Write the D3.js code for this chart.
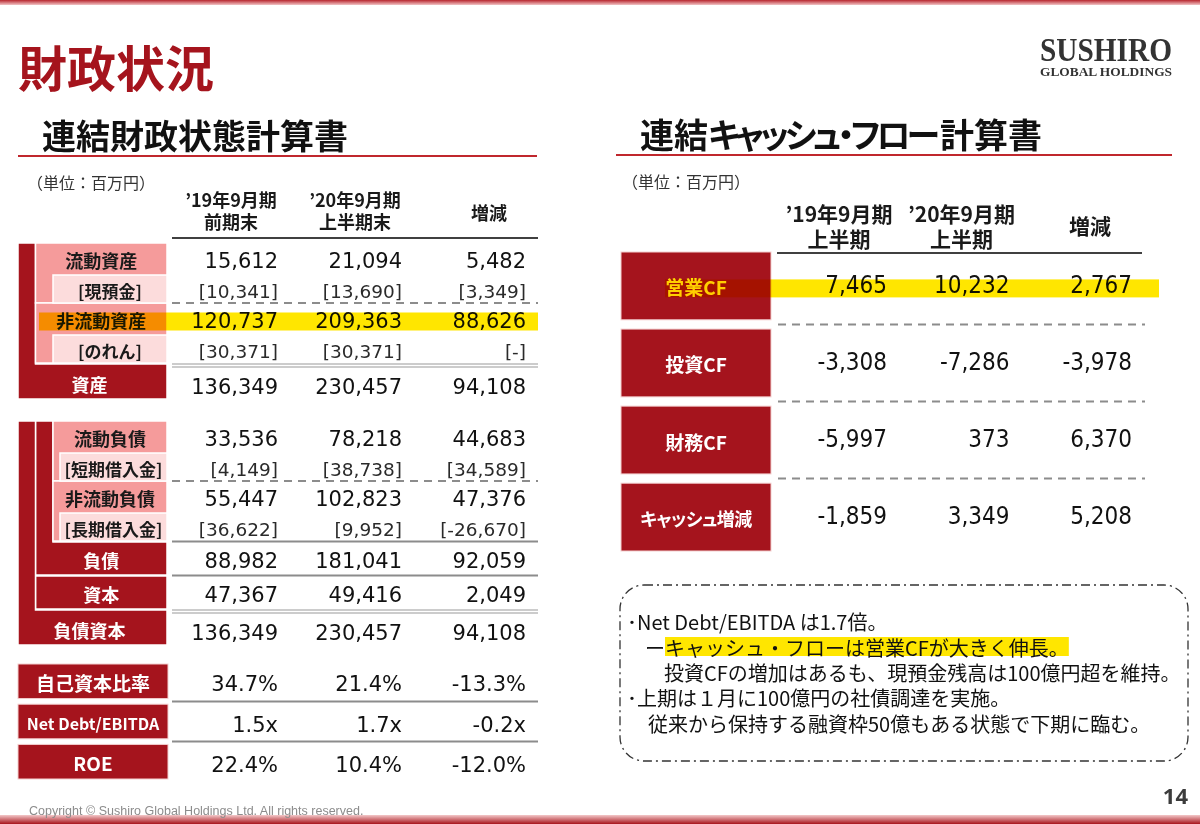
<!DOCTYPE html>
<html>
<head>
<meta charset="utf-8">
<script src="https://cdnjs.cloudflare.com/ajax/libs/d3/7.8.5/d3.min.js"></script>
<style>
  body { margin: 0; background: #fff; }
  svg text { font-family: "Noto Sans CJK JP", sans-serif; dominant-baseline: central; }
</style>
</head>
<body>
<script>
// ---- data: 連結財政状態計算書 (単位：百万円)
const bsLabels = ["流動資産", "[現預金]", "非流動資産", "[のれん]", "資産",
                  "流動負債", "[短期借入金]", "非流動負債", "[長期借入金]", "負債", "資本", "負債資本"];
const bsKinds  = ["main", "sub", "main", "sub", "grand",
                  "main", "sub", "main", "sub", "total", "total", "grand"];
const bsLevels = [1, 2, 1, 2, 0, 2, 3, 2, 3, 1, 1, 0];
const bsBlocks = [0, 0, 0, 0, 0, 1, 1, 1, 1, 1, 1, 1];
const bsPrev = [15612, 10341, 120737, 30371, 136349, 33536, 4149, 55447, 36622, 88982, 47367, 136349];
const bsCurr = [21094, 13690, 209363, 30371, 230457, 78218, 38738, 102823, 9952, 181041, 49416, 230457];
const bsDiff = [5482, 3349, 88626, null, 94108, 44683, 34589, 47376, -26670, 92059, 2049, 94108];
const bsHeads = [["’19年9月期", "前期末"], ["’20年9月期", "上半期末"], ["増減"]];

// ---- data: 指標
const ratioLabels = ["自己資本比率", "Net Debt/EBITDA", "ROE"];
const ratioPrev = [34.7, 1.5, 22.4];
const ratioCurr = [21.4, 1.7, 10.4];
const ratioDiff = [-13.3, -0.2, -12.0];
const ratioUnit = ["%", "x", "%"];

// ---- data: 連結キャッシュ・フロー計算書
const cfLabels = ["営業CF", "投資CF", "財務CF", "キャッシュ増減"];
const cfPrev = [7465, -3308, -5997, -1859];
const cfCurr = [10232, -7286, 373, 3349];
const cfDiff = [2767, -3978, 6370, 5208];
const cfHeads = [["’19年9月期", "上半期"], ["’20年9月期", "上半期"], ["増減"]];

const cols = ["prev", "curr", "diff"];
const bsHighlight = "非流動資産";
const cfHighlight = "営業CF";

const noteLines = [
  "･Net Debt/EBITDA は1.7倍。",
  "ーキャッシュ・フローは営業CFが大きく伸長。",
  "投資CFの増加はあるも、現預金残高は100億円超を維持。",
  "･上期は１月に100億円の社債調達を実施。",
  "従来から保持する融資枠50億もある状態で下期に臨む。"
];

// ---- setup
const width = 1200, height = 824;
const RED = "#a5141d", PINK = "#f59b9b", LPINK = "#fcdcdc", YEL = "#ffe600";
const NUM = '"DejaVu Sans", Verdana, sans-serif';
const NUMC = '"DejaVu Sans Condensed", "DejaVu Sans", sans-serif';

const loc = d3.formatLocale({decimal: ".", thousands: ",", grouping: [3], currency: ["", ""], minus: "-"});
const fInt = loc.format(",");
const f1 = loc.format(".1f");

const svg = d3.select("body").append("svg")
    .attr("width", width)
    .attr("height", height);

const defs = svg.append("defs");
const topGrad = defs.append("linearGradient").attr("id", "topGrad")
    .attr("x1", 0).attr("y1", 0).attr("x2", 0).attr("y2", 1);
topGrad.append("stop").attr("offset", "0%").attr("stop-color", "#b8262e");
topGrad.append("stop").attr("offset", "100%").attr("stop-color", "#f2c4c6");
const botGrad = defs.append("linearGradient").attr("id", "botGrad")
    .attr("x1", 0).attr("y1", 0).attr("x2", 0).attr("y2", 1);
botGrad.append("stop").attr("offset", "0%").attr("stop-color", "#f3c8c9");
botGrad.append("stop").attr("offset", "100%").attr("stop-color", "#a8141c");

svg.append("rect").attr("x", 0).attr("y", 0).attr("width", width).attr("height", 5).attr("fill", "url(#topGrad)");
svg.append("rect").attr("x", 0).attr("y", 815).attr("width", width).attr("height", 9).attr("fill", "url(#botGrad)");

// titles
svg.append("text").attr("x", 18).attr("y", 65)
    .style("font-size", "49px").style("font-weight", "bold").attr("fill", RED)
    .text("財政状況");

svg.append("text").attr("x", 42).attr("y", 134)
    .style("font-size", "34px").style("font-weight", "bold").attr("fill", "#111")
    .text("連結財政状態計算書");
const cfTitle = svg.append("text").attr("x", 640).attr("y", 133)
    .style("font-size", "34px").style("font-weight", "bold").attr("fill", "#111")
    .style("font-feature-settings", '"palt"');
cfTitle.append("tspan").text("連結");
cfTitle.append("tspan").style("letter-spacing", "-4px").text("キャッシュ・フロー");
cfTitle.append("tspan").attr("dx", 4).text("計算書");

svg.append("line").attr("x1", 18).attr("x2", 537).attr("y1", 156).attr("y2", 156)
    .attr("stroke", "#c0272d").attr("stroke-width", 2);
svg.append("line").attr("x1", 616).attr("x2", 1172).attr("y1", 155).attr("y2", 155)
    .attr("stroke", "#c0272d").attr("stroke-width", 2);

// logo (one text, two lines)
const logo = svg.append("text")
    .style("font-family", '"Liberation Serif", serif').style("font-weight", "bold").attr("fill", "#333");
logo.append("tspan").attr("x", 1040).attr("y", 49).style("font-size", "34px")
    .attr("textLength", 132).attr("lengthAdjust", "spacingAndGlyphs").text("SUSHIRO");
logo.append("tspan").attr("x", 1040).attr("y", 71.5).style("font-size", "12.5px")
    .attr("textLength", 132).attr("lengthAdjust", "spacingAndGlyphs").text("GLOBAL HOLDINGS");

// unit labels
svg.append("text").attr("x", 27).attr("y", 182).style("font-size", "16px").attr("fill", "#333").text("（単位：百万円）");
svg.append("text").attr("x", 622).attr("y", 181).style("font-size", "16px").attr("fill", "#333").text("（単位：百万円）");

// ================= 連結財政状態計算書 =================
const bsX = d3.scalePoint().domain(cols).range([278, 526]);
const levelX = [18, 35.5, 53, 60];
const boxRight = 167;
const rowH = {main: 32, sub: 28, total: 33, grand: 35};
const rowGap = {main: 0, sub: 0, total: 1, grand: 1};
const blockTop = [243, 421];

const rows = [];
let curBlock = -1, yPos = 0;
bsLabels.forEach((lab, i) => {
    const first = bsBlocks[i] !== curBlock;
    if (first) { curBlock = bsBlocks[i]; yPos = blockTop[curBlock]; }
    else yPos += rowGap[bsKinds[i]];
    rows.push({label: lab, kind: bsKinds[i], level: bsLevels[i], block: bsBlocks[i], first: first,
               top: yPos, h: rowH[bsKinds[i]], prev: bsPrev[i], curr: bsCurr[i], diff: bsDiff[i]});
    yPos += rowH[bsKinds[i]];
});

// column headers: one text per header, lines as tspans
function header(g, cx, lines, y1, gap, ySingle, size) {
    const t = g.append("text").attr("text-anchor", "middle")
        .style("font-size", size).style("font-weight", "bold").attr("fill", "#1a1a1a");
    lines.forEach((s, k) => {
        t.append("tspan").attr("x", cx)
            .attr("y", lines.length === 1 ? ySingle : y1 + k * gap)
            .text(s);
    });
}

const headG = svg.append("g");
cols.forEach((c, j) => {
    header(headG, bsX(c) - (c === "diff" ? 37 : 47), bsHeads[j], 199, 22, 212, "18px");
});
svg.append("line").attr("x1", 172).attr("x2", 538).attr("y1", 238).attr("y2", 238)
    .attr("stroke", "#404040").attr("stroke-width", 2);

// dark label shapes (with bars)
const labelG = svg.append("g");
rows.forEach((r, i) => {
    if (r.kind !== "total" && r.kind !== "grand") return;
    const x0 = levelX[r.level], bottom = r.top + r.h;
    const p = d3.path();
    const prev = rows[i - 1];
    if (prev && prev.level > r.level) {
        const bx = levelX[r.level + 1], bTop = blockTop[r.block];
        p.moveTo(x0, bTop); p.lineTo(bx, bTop); p.lineTo(bx, r.top);
        p.lineTo(boxRight, r.top); p.lineTo(boxRight, bottom); p.lineTo(x0, bottom); p.closePath();
    } else {
        p.rect(x0, r.top, boxRight - x0, r.h);
    }
    labelG.append("path").attr("d", p.toString())
        .attr("fill", RED).attr("stroke", "#fff").attr("stroke-width", 1.5);
});

// pink boxes
rows.forEach((r, i) => {
    if (r.kind !== "main") return;
    const next = rows[i + 1];
    const bottom = next && next.kind === "sub" ? next.top + next.h : r.top + r.h;
    labelG.append("rect").attr("x", levelX[r.level]).attr("y", r.top)
        .attr("width", boxRight - levelX[r.level]).attr("height", bottom - r.top)
        .attr("fill", PINK).attr("stroke", "#fff").attr("stroke-width", 1.5);
});
rows.forEach(r => {
    if (r.kind !== "sub") return;
    labelG.append("rect").attr("x", levelX[r.level]).attr("y", r.top)
        .attr("width", boxRight - levelX[r.level]).attr("height", r.h)
        .attr("fill", LPINK).attr("stroke", "#fff").attr("stroke-width", 1.5);
});

// labels
rows.forEach(r => {
    const dark = r.kind === "total" || r.kind === "grand";
    labelG.append("text")
        .attr("x", (levelX[r.level] + boxRight) / 2 - (r.kind === "grand" ? 3 : 0))
        .attr("y", r.top + r.h / 2 + (r.kind === "grand" ? 2 : 1))
        .attr("text-anchor", "middle")
        .style("font-size", r.kind === "sub" ? "17px" : "18px").style("font-weight", "bold")
        .attr("fill", dark ? "#fff" : "#1a1a1a")
        .text(r.label);
});

// separator lines
const sepG = svg.append("g");
rows.forEach(r => {
    if (r.kind === "main" && !r.first) {
        sepG.append("line").attr("x1", 172).attr("x2", 538).attr("y1", r.top).attr("y2", r.top)
            .attr("stroke", "#8c8c8c").attr("stroke-width", 2).attr("stroke-dasharray", "8,6");
    } else if (r.kind === "total") {
        sepG.append("line").attr("x1", 172).attr("x2", 538).attr("y1", r.top - 0.5).attr("y2", r.top - 0.5)
            .attr("stroke", "#8c8c8c").attr("stroke-width", 2);
    } else if (r.kind === "grand") {
        [0, 3].forEach(o => sepG.append("line").attr("x1", 172).attr("x2", 538)
            .attr("y1", r.top + o).attr("y2", r.top + o)
            .attr("stroke", "#9a9a9a").attr("stroke-width", 1.2));
    }
});

// numbers
const numG = svg.append("g");
rows.forEach(r => {
    cols.forEach(c => {
        const v = r[c];
        let s = v == null ? "-" : fInt(v);
        if (r.kind === "sub") s = "[" + s + "]";
        numG.append("text")
            .attr("x", bsX(c))
            .attr("y", r.top + r.h / 2 + (r.kind === "grand" ? 5 : 2))
            .attr("text-anchor", "end")
            .style("font-family", NUM)
            .style("font-size", r.kind === "sub" ? "18.5px" : "21px")
            .attr("fill", r.kind === "sub" ? "#2a2a2a" : "#111")
            .text(s);
    });
});

// ratios
const rY = d3.scaleBand().domain(ratioLabels).range([664, 779]).paddingInner(0.14);
const ratioG = svg.append("g");
ratioLabels.forEach((lab, i) => {
    ratioG.append("rect").attr("x", 18).attr("y", rY(lab)).attr("width", 150).attr("height", rY.bandwidth())
        .attr("fill", RED).attr("stroke", "#f4d0d0").attr("stroke-width", 1);
    ratioG.append("text").attr("x", 93).attr("y", rY(lab) + rY.bandwidth() / 2 + 1)
        .attr("text-anchor", "middle")
        .style("font-size", lab.length > 10 ? "16px" : "19px").style("font-weight", "bold")
        .attr("fill", "#fff").text(lab);
    [ratioPrev[i], ratioCurr[i], ratioDiff[i]].forEach((v, j) => {
        ratioG.append("text").attr("x", bsX(cols[j])).attr("y", rY(lab) + rY.bandwidth() / 2 + 3)
            .attr("text-anchor", "end")
            .style("font-family", NUM).style("font-size", "21px").attr("fill", "#111")
            .text(f1(v) + ratioUnit[i]);
    });
    if (i < ratioLabels.length - 1) {
        const ly = rY(lab) + rY.bandwidth() + rY.step() * rY.paddingInner() / 2;
        ratioG.append("line").attr("x1", 172).attr("x2", 538).attr("y1", ly).attr("y2", ly)
            .attr("stroke", "#8c8c8c").attr("stroke-width", 2);
    }
});

// ================= 連結キャッシュ・フロー計算書 =================
const cfX = d3.scalePoint().domain(cols).range([887, 1132]);
const cfY = d3.scaleBand().domain(cfLabels).range([252, 551]).paddingInner(0.12);

const cfHeadG = svg.append("g");
cols.forEach((c, j) => {
    header(cfHeadG, cfX(c) - (c === "diff" ? 42 : 48), cfHeads[j], 213, 25, 225, "21px");
});
svg.append("line").attr("x1", 777).attr("x2", 1142).attr("y1", 253).attr("y2", 253)
    .attr("stroke", "#404040").attr("stroke-width", 2);

const cfG = svg.append("g");
cfLabels.forEach((lab, i) => {
    const y0 = cfY(lab), cy = y0 + cfY.bandwidth() / 2;
    cfG.append("rect").attr("x", 621).attr("y", y0).attr("width", 150).attr("height", cfY.bandwidth())
        .attr("fill", RED).attr("stroke", "#f4d0d0").attr("stroke-width", 1);
    cfG.append("text").attr("x", 696).attr("y", cy + 1)
        .attr("text-anchor", "middle")
        .style("font-size", lab.length > 5 ? "18px" : "19px").style("font-weight", "bold")
        .style("font-feature-settings", '"palt"')
        .style("letter-spacing", lab.length > 5 ? "-0.5px" : "0px")
        .attr("fill", lab === cfHighlight ? YEL : "#fff").text(lab);
    [cfPrev[i], cfCurr[i], cfDiff[i]].forEach((v, j) => {
        cfG.append("text").attr("x", cfX(cols[j])).attr("y", cy - 1)
            .attr("text-anchor", "end")
            .style("font-family", NUMC).style("font-size", "24px").attr("fill", "#111")
            .text(fInt(v));
    });
    if (i < cfLabels.length - 1) {
        const ly = y0 + cfY.bandwidth() + cfY.step() * cfY.paddingInner() / 2;
        cfG.append("line").attr("x1", 778).attr("x2", 1145).attr("y1", ly).attr("y2", ly)
            .attr("stroke", "#8c8c8c").attr("stroke-width", 2).attr("stroke-dasharray", "8,6");
    }
});

// highlights (multiply like a marker)
const bsHl = rows.find(r => r.label === bsHighlight);
const bsHlY = bsHl.top + bsHl.h / 2 + 2;
svg.append("rect").attr("x", 39).attr("y", bsHlY - 8.5).attr("width", 538 - 39).attr("height", 18)
    .attr("fill", YEL).style("mix-blend-mode", "multiply");
const cfHlY = cfY(cfHighlight) + cfY.bandwidth() / 2 + 2;
svg.append("rect").attr("x", 665).attr("y", cfHlY - 8.5).attr("width", 1159 - 665).attr("height", 18)
    .attr("fill", YEL).style("mix-blend-mode", "multiply");

// ================= note box =================
svg.append("rect").attr("x", 620).attr("y", 585).attr("width", 568).attr("height", 176)
    .attr("rx", 24).attr("ry", 24)
    .attr("fill", "none").attr("stroke", "#333").attr("stroke-width", 1.3)
    .attr("stroke-dasharray", "9,4,2,4");

const noteX = [627, 645, 664, 627, 648];
const noteY = [621, 647, 672, 697, 723];
const noteG = svg.append("g");
const noteHl = noteG.append("rect").attr("fill", YEL);
noteLines.forEach((t, i) => {
    const tx = noteG.append("text").attr("x", noteX[i]).attr("y", noteY[i])
        .style("font-size", "20px").attr("fill", "#111").text(t);
    if (i === 1) {
        const node = tx.node();
        const lead = node.getSubStringLength(0, 1);
        const rest = node.getSubStringLength(1, t.length - 1);
        noteHl.attr("x", noteX[i] + lead).attr("y", noteY[i] - 10)
            .attr("width", rest).attr("height", 19);
    }
});

// footer
svg.append("text").attr("x", 29).attr("y", 811)
    .style("font-family", '"Liberation Sans", Arial, sans-serif').style("font-size", "12.5px")
    .attr("fill", "#8c8c8c")
    .text("Copyright © Sushiro Global Holdings Ltd. All rights reserved.");
svg.append("text").attr("x", 1188).attr("y", 795).attr("text-anchor", "end")
    .style("font-family", '"Noto Sans", sans-serif').style("font-size", "22px").style("font-weight", "bold")
    .attr("fill", "#3c3c3c").text("14");
</script>
</body>
</html>
